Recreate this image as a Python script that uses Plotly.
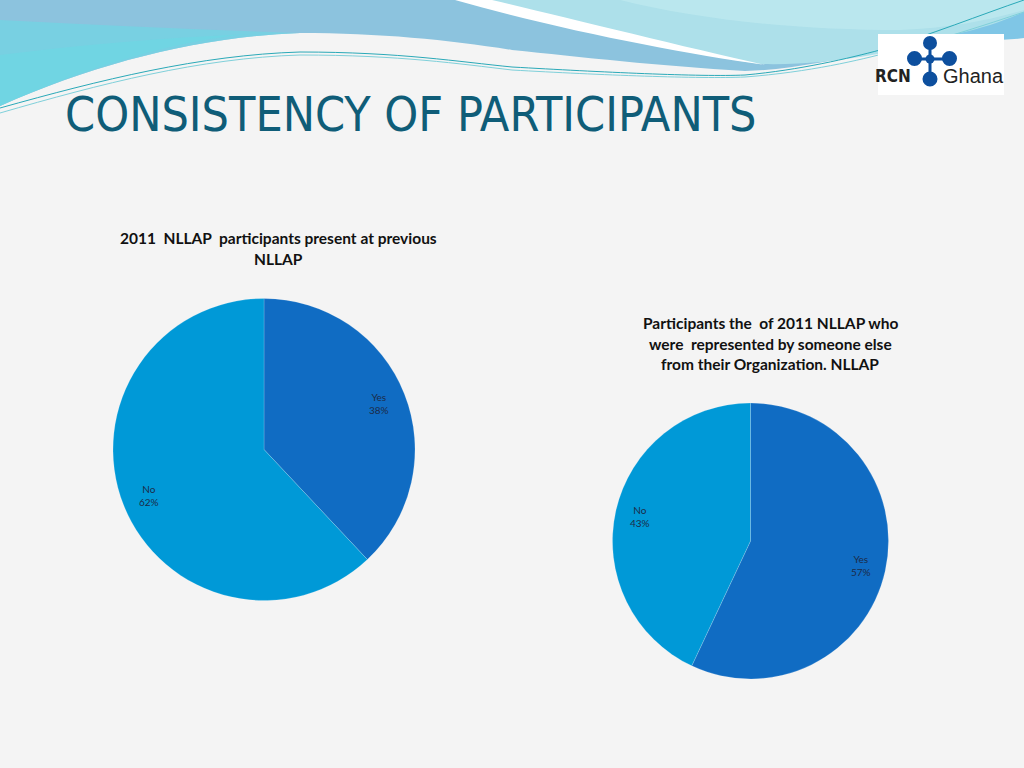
import math
import plotly.graph_objects as go

W, H = 1024, 768

page_title = "CONSISTENCY OF PARTICIPANTS"
chart1_title = ["2011  NLLAP  participants present at previous", "NLLAP"]
chart1_labels = ["Yes", "No"]
chart1_values = [38, 62]
chart2_title = ["Participants the  of 2011 NLLAP who",
                "were  represented by someone else",
                "from their Organization. NLLAP"]
chart2_labels = ["Yes", "No"]
chart2_values = [57, 43]

slice_colors = {"Yes": "#106cc3", "No": "#0099d7"}

# pie placement in page pixels (centre and radius)
pie1 = dict(cx=264, cy=449.5, r=151, title_x=278, title_y=[238, 259])
pie2 = dict(cx=750.5, cy=541, r=138, title_x=770, title_y=[323, 343.5, 364])

fig = go.Figure()


def add_pie(spec, labels, values, title_lines):
    cx, cy, r = spec["cx"], spec["cy"], spec["r"]
    fig.add_trace(go.Pie(
        labels=labels, values=values, sort=False, direction="clockwise",
        rotation=0, textinfo="none", hoverinfo="label+percent",
        marker=dict(colors=[slice_colors[l] for l in labels],
                    line=dict(color="rgba(255,255,255,0.35)", width=0.5)),
        domain=dict(x=[(cx - r) / W, (cx + r) / W],
                    y=[1 - (cy + r) / H, 1 - (cy - r) / H]),
        showlegend=False,
    ))
    total = sum(values)
    start = 0.0
    for lab, v in zip(labels, values):
        frac = v / total
        mid = (start + frac / 2) * 2 * math.pi
        start += frac
        lx = cx + 0.82 * r * math.sin(mid)
        ly = cy - 0.82 * r * math.cos(mid)
        fig.add_annotation(x=lx, y=ly, xref="x", yref="y", showarrow=False,
                           text=f"{lab}<br>{round(frac * 100)}%",
                           font=dict(family="Lato, Carlito, sans-serif", size=10, color="#1c2b48"))
    for line, ty in zip(title_lines, spec["title_y"]):
        fig.add_annotation(x=spec["title_x"], y=ty, xref="x", yref="y", showarrow=False,
                           text=f"<b>{line}</b>",
                           font=dict(family="Lato, sans-serif", size=15.5, color="#111111"))


add_pie(pie1, chart1_labels, chart1_values, chart1_title)
add_pie(pie2, chart2_labels, chart2_values, chart2_title)

# ---- decorative header ----
shapes = []


def path_shape(d, fill, opacity=1.0, line=None):
    s = dict(type="path", path=d, xref="x", yref="y", layer="below",
             fillcolor=fill, opacity=opacity,
             line=dict(width=0) if line is None else line)
    shapes.append(s)


# main blue band on top
path_shape("M0,0 L1024,0 L1024,33 C990,42 930,50 880,52 C830,60 790,70 745,71 "
           "C660,66 580,57 512,50 C450,40 380,33 300,33 C200,37 100,62 0,106 Z", "#8cc3de")
# cyan tint lower-left
path_shape("M0,20 C100,25 200,30 300,33 C200,37 100,62 0,106 Z", "#72d4e3", 0.75)
path_shape("M0,55 C80,45 160,38 250,34 C180,40 90,65 0,106 Z", "#6ad9e4", 0.6)
# light cyan region upper right
path_shape("M470,0 C560,24 670,50 760,64 C830,66 900,52 1024,22 L1024,0 Z", "#ade0ea")
path_shape("M620,0 C700,20 800,30 900,30 C950,28 990,20 1024,10 L1024,0 Z", "#bde8ef", 0.8)
# white swoosh
path_shape("M492,0 C560,16 680,46 765,65 C680,53 560,30 455,0 Z", "#ffffff")
# darker sliver at right
path_shape("M955,34 C985,28 1005,20 1024,12 L1024,38 C1005,41 985,40 955,34 Z", "#7fc6e6")
# thin teal lines
shapes.append(dict(type="path", xref="x", yref="y", layer="below",
                   path="M0,108 C100,80 200,55 300,52 C400,52 460,62 512,67 C600,72 700,77 745,75 "
                        "C800,70 850,58 880,50 C930,35 980,15 1024,0",
                   line=dict(color="#2aa9b8", width=1)))
shapes.append(dict(type="path", xref="x", yref="y", layer="below",
                   path="M0,113 C100,84 200,58 300,55 C400,55 460,64 512,70 C600,75 700,79 745,77 "
                        "C810,72 860,60 890,52 C940,40 985,25 1024,12",
                   line=dict(color="#7fd0da", width=1)))

# logo box
shapes.append(dict(type="rect", xref="x", yref="y", layer="below", x0=878, x1=1004, y0=34, y1=95,
                   fillcolor="#ffffff", line=dict(width=0)))
logo_blue = "#0d4f9e"
shapes.append(dict(type="line", xref="x", yref="y", x0=930, x1=930, y0=44, y1=76,
                   line=dict(color=logo_blue, width=3)))
shapes.append(dict(type="line", xref="x", yref="y", x0=915, x1=948, y0=59, y1=59,
                   line=dict(color=logo_blue, width=3)))
for (cx, cy, rr) in [(930, 43, 7), (914.5, 58.5, 7.5), (949.5, 58.5, 7.5), (930, 59, 4.5), (930, 79, 7.5)]:
    shapes.append(dict(type="circle", xref="x", yref="y", x0=cx - rr, x1=cx + rr, y0=cy - rr, y1=cy + rr,
                       fillcolor=logo_blue, line=dict(width=0)))
fig.add_annotation(x=893, y=76, xref="x", yref="y", showarrow=False, text="<b>RCN</b>",
                   font=dict(family="DejaVu Sans Condensed, sans-serif", size=17, color="#222222"))
fig.add_annotation(x=973, y=76, xref="x", yref="y", showarrow=False, text="Ghana",
                   font=dict(family="Liberation Sans, Arial, sans-serif", size=20, color="#222222"))

# page title
fig.add_annotation(x=63, y=114, xref="x", yref="y", xanchor="left", showarrow=False,
                   text=page_title,
                   font=dict(family="DejaVu Sans Condensed, sans-serif",
                             size=48, color="#0f5d78"))

fig.update_layout(
    width=W, height=H, margin=dict(l=0, r=0, t=0, b=0),
    paper_bgcolor="#f4f4f4", plot_bgcolor="rgba(0,0,0,0)",
    xaxis=dict(range=[0, W], visible=False, fixedrange=True, domain=[0, 1]),
    yaxis=dict(range=[H, 0], visible=False, fixedrange=True, domain=[0, 1]),
    shapes=shapes,
)

fig.write_html("out.html", config={"displayModeBar": False},
               post_script="document.body.style.margin='0';")
